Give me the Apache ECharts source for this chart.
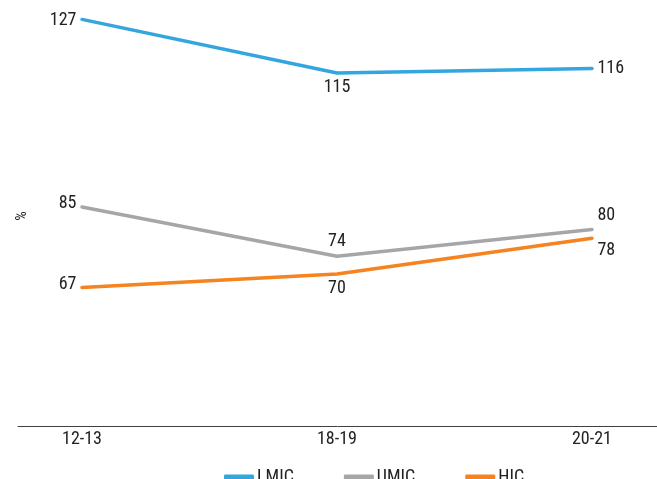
<!DOCTYPE html>
<html>
<head>
<meta charset="utf-8">
<script src="https://cdn.jsdelivr.net/npm/echarts@6/dist/echarts.min.js"></script>
<style>
html,body{margin:0;padding:0;background:#fff;}
#chart{width:657px;height:479px;}
</style>
</head>
<body>
<div id="chart"></div>
<script>
var categories = ['12-13', '18-19', '20-21'];
var seriesNames = ['LMIC', 'UMIC', 'HIC'];
var lmic = [127, 115, 116];
var umic = [85, 74, 80];
var hic = [67, 70, 78];

var FONT = "'Liberation Sans Narrow', 'Roboto Condensed', Roboto, sans-serif";
var TXT = '#222222';

function pts(arr) { return arr.map(function (v, i) { return [i, v]; }); }

function mk(name, arr, color, labels) {
  return {
    name: name,
    type: 'line',
    data: pts(arr).map(function (p, i) {
      return { value: p, label: labels[i] };
    }),
    symbol: 'circle',
    symbolSize: 1,
    showSymbol: true,
    lineStyle: { color: color, width: 3.5, cap: 'round' },
    itemStyle: { color: color, opacity: 0 },
    label: {
      show: true,
      fontFamily: FONT,
      fontSize: 18,
      color: TXT,
      opacity: 1,
      distance: 5,
      formatter: function (p) { return p.value[1]; }
    },
    emphasis: { disabled: true },
    animation: false
  };
}

var colors = ['#33A6DF', '#A6A6A8', '#F5831F'];

var chart = echarts.init(document.getElementById('chart'), null, { renderer: 'canvas' });
chart.setOption({
  backgroundColor: '#fff',
  animation: false,
  textStyle: { fontFamily: FONT },
  grid: { left: 18, right: 0, top: 6, bottom: 53, containLabel: false },
  legend: {
    data: seriesNames.map(function (n, i) {
      return { name: n, icon: 'roundRect', itemStyle: { color: colors[i], opacity: 1 } };
    }),
    left: 219,
    top: 463,
    itemWidth: 30,
    itemHeight: 5,
    itemGap: 50,
    itemStyle: { opacity: 1 },
    textStyle: { fontFamily: FONT, fontSize: 18, color: TXT, padding: [0, 0, 0, -2] }
  },
  xAxis: {
    type: 'value',
    min: -0.251,
    max: 2.255,
    axisLine: { show: true, lineStyle: { color: '#404040', width: 1 } },
    axisTick: { show: false },
    splitLine: { show: false },
    axisLabel: {
      customValues: categories.map(function (c, i) { return i; }),
      formatter: function (v) { return categories[Math.round(v)]; },
      fontFamily: FONT,
      fontSize: 18,
      color: TXT,
      margin: 4
    }
  },
  yAxis: {
    type: 'value',
    min: 36,
    max: 130,
    name: '%',
    nameLocation: 'middle',
    nameRotate: 90,
    nameGap: -12,
    nameTextStyle: { fontFamily: FONT, fontSize: 15, color: TXT },
    axisLine: { show: false },
    axisTick: { show: false },
    axisLabel: { show: false },
    splitLine: { show: false }
  },
  series: [
    mk('LMIC', lmic, colors[0], [
      { position: 'left', offset: [0, 1] },
      { position: 'bottom' },
      { position: 'right' }
    ]),
    mk('UMIC', umic, colors[1], [
      { position: 'left', offset: [0, -4] },
      { position: 'top' },
      { position: 'right', offset: [0, -14] }
    ]),
    mk('HIC', hic, colors[2], [
      { position: 'left', offset: [0, -3] },
      { position: 'bottom' },
      { position: 'right', offset: [0, 12] }
    ])
  ]
});
</script>
</body>
</html>
